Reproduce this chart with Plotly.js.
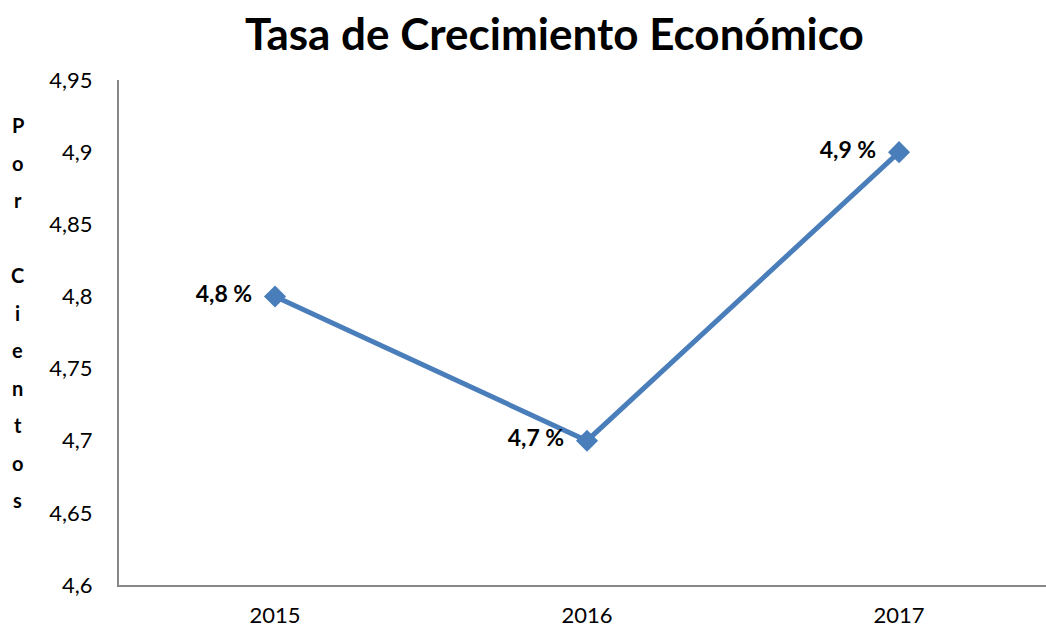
<!DOCTYPE html>
<html>
<head>
<meta charset="utf-8">
<script src="https://cdn.plot.ly/plotly-3.0.1.min.js"></script>
<style>html,body{margin:0;padding:0;background:#fff;}#chart{width:1046px;height:629px;}</style>
</head>
<body>
<div id="chart"></div>
<script>
var years = ['2015', '2016', '2017'];
var growth = [4.8, 4.7, 4.9];
var yTicks = [4.6, 4.65, 4.7, 4.75, 4.8, 4.85, 4.9, 4.95];
var titleText = 'Tasa de Crecimiento Económico';
var yTitleLines = ['P', 'o', 'r', '', 'C', 'i', 'e', 'n', 't', 'o', 's'];

var FONT = 'Lato, Carlito, Calibri, sans-serif';
var labels = growth.map(function (v) { return v.toString().replace('.', ',') + ' %\u00a0\u00a0'; });

var trace = {
  x: years,
  y: growth,
  type: 'scatter',
  mode: 'lines+markers+text',
  line: { color: '#4A7EBB', width: 5 },
  marker: { symbol: 'diamond', size: 17, color: '#4A7EBB' },
  text: labels,
  textposition: 'middle left',
  textfont: { family: FONT, size: 23, color: '#000', weight: 'bold' },
  cliponaxis: false,
  hoverinfo: 'x+y'
};

// vertical stacked y-axis title letters
var letterTop = 125, letterStep = 37.5, plotTopPx = 80, plotBottomPx = 585;
var annotations = yTitleLines.map(function (ch, i) {
  var ypx = letterTop + i * letterStep;
  return {
    text: ch, showarrow: false, xref: 'paper', yref: 'paper',
    x: -0.109, y: (plotBottomPx - ypx) / (plotBottomPx - plotTopPx),
    xanchor: 'center', yanchor: 'middle',
    font: { family: FONT, size: 20, color: '#000', weight: 'bold' }
  };
}).filter(function (a) { return a.text !== ''; });

var layout = {
  width: 1046, height: 629,
  margin: { l: 119, r: 0, t: 80, b: 44 },
  paper_bgcolor: '#fff', plot_bgcolor: '#fff',
  separators: ',.',
  showlegend: false,
  title: {
    text: '<b>' + titleText + '</b>',
    font: { family: FONT, size: 44, color: '#000' },
    x: 0.53, xanchor: 'center', y: 0.945, yanchor: 'middle'
  },
  xaxis: {
    type: 'category',
    range: [-0.5, 2.471],
    showgrid: false, zeroline: false,
    showline: true, linecolor: '#868686', linewidth: 2,
    ticks: '', ticklabelstandoff: 10,
    tickfont: { family: FONT, size: 22, color: '#000' },
    fixedrange: true
  },
  yaxis: {
    range: [4.6, 4.95],
    tickvals: yTicks,
    showgrid: false, zeroline: false,
    showline: true, linecolor: '#868686', linewidth: 2,
    ticks: '', ticklabelstandoff: 20,
    tickfont: { family: FONT, size: 22, color: '#000' },
    fixedrange: true
  },
  annotations: annotations
};

Plotly.newPlot('chart', [trace], layout, { displayModeBar: false, staticPlot: true });
</script>
</body>
</html>
